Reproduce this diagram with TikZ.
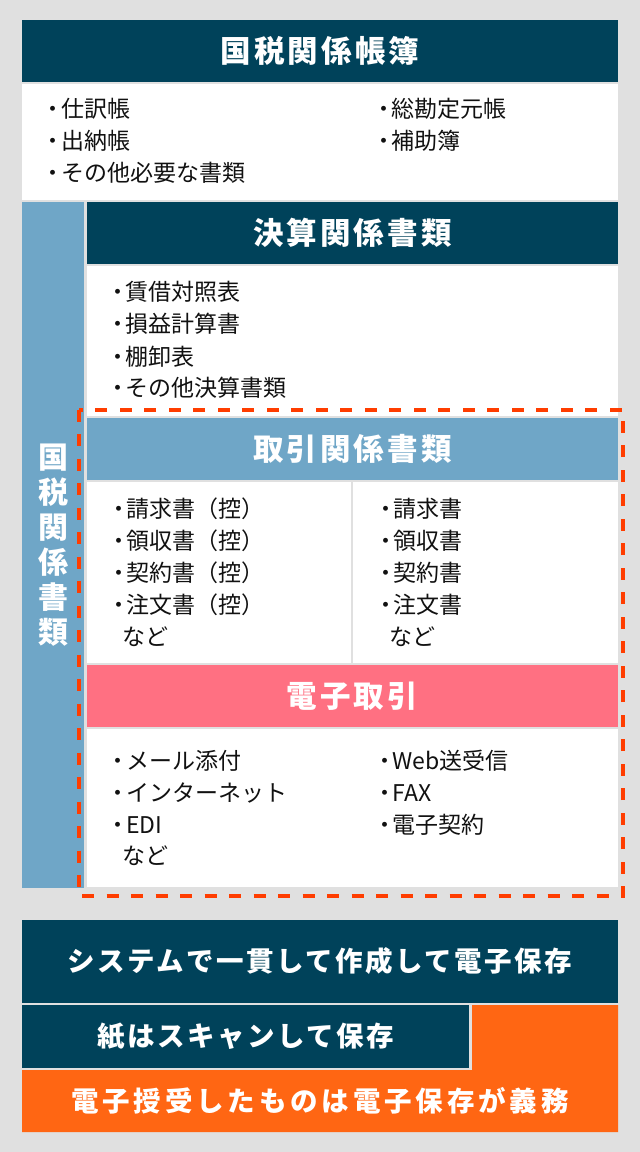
\documentclass[tikz,border=0pt]{standalone}
\usepackage{fontspec}
\setmainfont{Noto Sans CJK JP}
\definecolor{bgcol}{HTML}{E0E0E0}
\definecolor{navy}{HTML}{00425A}
\definecolor{skyb}{HTML}{6FA6C7}
\definecolor{pinkc}{HTML}{FF7082}
\definecolor{orangec}{HTML}{FF6613}
\definecolor{dashc}{HTML}{FF3D00}
\definecolor{ink}{HTML}{111111}
\newcommand\bul{・\hspace{-0.15em}}
\begin{document}
\begin{tikzpicture}[x=1pt,y=-1pt,
  panel/.style={anchor=north west, inner sep=0pt, outer sep=0pt, draw=none},
  hdr/.style={panel, text=white, font=\fontsize{30.5}{30.5}\selectfont\bfseries\addfontfeature{LetterSpace=10},
     text height=26.8pt, text depth=3.7pt},
  btxt/.style={text=white, inner sep=0pt, font=\fontsize{27.5}{27.5}\selectfont\bfseries\addfontfeature{LetterSpace=9},
     text height=24pt, text depth=3.5pt},
  item/.style={anchor=west, inner sep=0pt, text=ink, font=\fontsize{23}{23}\selectfont,
     text height=20pt, text depth=3pt}]
\useasboundingbox (0,0) rectangle (640,1152);
\fill[bgcol] (0,0) rectangle (640,1152);

% 国税関係帳簿
\node[hdr, fill=navy, minimum width=596pt, minimum height=62pt] (h1) at (22,20) {国税関係帳簿};
\node[panel, fill=white, minimum width=596pt, minimum height=116pt] (w1) at (22,84) {};
\node[item] (a1) at (41.5,109) {\bul 仕訳帳};
\node[item] (a2) at (41.5,141) {\bul 出納帳};
\node[item] (a3) at (41.5,172.5) {\bul その他必要な書類};
\node[item] (a4) at (372,109) {\bul 総勘定元帳};
\node[item] (a5) at (372,141) {\bul 補助簿};

% vertical bar
\node[panel, fill=skyb, minimum width=62pt, minimum height=686pt] (vb) at (22,202) {};
\node[text=white, inner sep=0pt, align=center, font=\fontsize{30}{35}\selectfont\bfseries] (vt) at (53,545) {国\\税\\関\\係\\書\\類};

% 決算関係書類
\node[hdr, fill=navy, minimum width=531pt, minimum height=62pt] (h2) at (87,202) {決算関係書類};
\node[panel, fill=white, minimum width=531pt, minimum height=150pt] (w2) at (87,266) {};
\node[item] (b1) at (106,292) {\bul 賃借対照表};
\node[item] (b2) at (106,324) {\bul 損益計算書};
\node[item] (b3) at (106,356.5) {\bul 棚卸表};
\node[item] (b4) at (106,388) {\bul その他決算書類};

% 取引関係書類
\node[hdr, fill=skyb, minimum width=531pt, minimum height=62pt] (h3) at (87,418) {取引関係書類};
\node[panel, fill=white, minimum width=264pt, minimum height=181pt] (w3l) at (87,482) {};
\node[panel, fill=white, minimum width=265pt, minimum height=181pt] (w3r) at (353,482) {};
\node[item] (c1) at (107,509) {\bul 請求書（控）};
\node[item] (c2) at (107,541) {\bul 領収書（控）};
\node[item] (c3) at (107,573) {\bul 契約書（控）};
\node[item] (c4) at (107,605) {\bul 注文書（控）};
\node[item] (c5) at (122.5,637) {など};
\node[item] (d1) at (374,509) {\bul 請求書};
\node[item] (d2) at (374,541) {\bul 領収書};
\node[item] (d3) at (374,573) {\bul 契約書};
\node[item] (d4) at (374,605) {\bul 注文書};
\node[item] (d5) at (389,637) {など};

% 電子取引
\node[hdr, fill=pinkc, minimum width=531pt, minimum height=62pt] (h4) at (87,665) {電子取引};
\node[panel, fill=white, minimum width=531pt, minimum height=158pt] (w4) at (87,729) {};
\node[item] (e1) at (106.5,761) {\bul メール添付};
\node[item] (e2) at (106.5,792.5) {\bul インターネット};
\node[item] (e3) at (106.5,825) {\bul EDI};
\node[item] (e4) at (122.5,856) {など};
\node[item] (f1) at (373,761) {\bul Web送受信};
\node[item] (f2) at (373,792.5) {\bul FAX};
\node[item] (f3) at (373,825) {\bul 電子契約};

% dashed frame
\draw[dashc, line width=4pt, dash pattern=on 12pt off 12.5pt] (78.5,409.5) rectangle (623,896);

% bottom
\node[panel, fill=navy, minimum width=596pt, minimum height=83pt] (g1) at (22,920) {};
\node[btxt] (g1t) at (g1.center) {システムで一貫して作成して電子保存};
\node[panel, fill=navy, minimum width=447pt, minimum height=63pt] (g2) at (22,1005) {};
\node[btxt] (g2t) at (g2.center) {紙はスキャンして保存};
\fill[orangec] (472,1005) -- (618,1005) -- (618,1132) -- (22,1132) -- (22,1070) -- (472,1070) -- cycle;
\node[btxt, font=\fontsize{27.5}{27.5}\selectfont\bfseries\addfontfeature{LetterSpace=14}] (g3t) at (320,1101) {電子授受したものは電子保存が義務};
\end{tikzpicture}
\end{document}
